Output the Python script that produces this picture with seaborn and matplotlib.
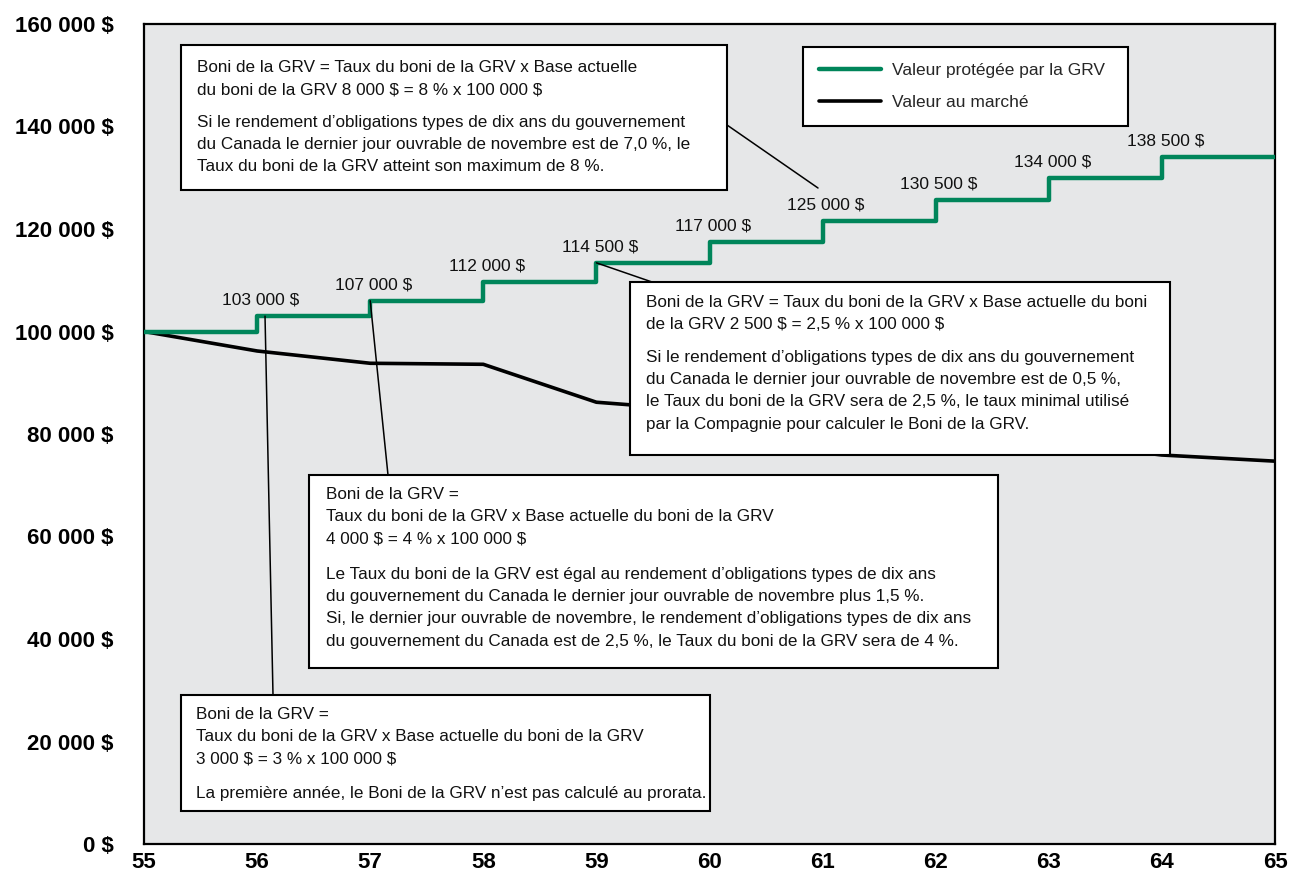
import pandas as pd
import matplotlib.pyplot as plt
import seaborn as sns
from matplotlib.patches import Rectangle

ages = [55, 56, 57, 58, 59, 60, 61, 62, 63, 64, 65]
grv_value = [100000, 103000, 106000, 109600, 113400, 117400, 121600, 125700, 130000, 134100, 134100]
market_value = [100000, 96200, 93800, 93600, 86200, 84500, 82500, 80500, 78500, 75900, 74700]

step_ages = [56, 57, 58, 59, 60, 61, 62, 63, 64]
step_labels = ['103 000 $', '107 000 $', '112 000 $', '114 500 $', '117 000 $',
               '125 000 $', '130 500 $', '134 000 $', '138 500 $']

y_ticks = [0, 20000, 40000, 60000, 80000, 100000, 120000, 140000, 160000]
y_tick_labels = ['0 $', '20 000 $', '40 000 $', '60 000 $', '80 000 $',
                 '100 000 $', '120 000 $', '140 000 $', '160 000 $']

green = '#00855A'
fam = ['Liberation Sans', 'DejaVu Sans']

sns.set_theme(style='white')
plt.rcParams['font.family'] = fam
plt.rcParams['text.parse_math'] = False

df = pd.DataFrame({'age': ages, 'grv': grv_value, 'market': market_value})

W, H = 1299, 882
fig = plt.figure(figsize=(W / 100, H / 100), dpi=100)
ax = fig.add_axes([144 / W, 1 - 844 / H, (1275 - 144) / W, (844 - 24) / H])
ax.set_facecolor('#E6E7E8')


def fx(px):
    return px / W


def fy(py):
    return 1 - py / H


sns.lineplot(data=df, x='age', y='grv', ax=ax, color=green, linewidth=3.2,
             drawstyle='steps-post', label='Valeur protégée par la GRV', zorder=3)
sns.lineplot(data=df, x='age', y='market', ax=ax, color='black', linewidth=2.6,
             label='Valeur au marché', zorder=2)

ax.set_xlim(55, 65)
ax.set_ylim(0, 160000)
ax.set_xticks(ages)
ax.set_xticklabels([str(a) for a in ages], fontsize=16, fontweight='bold')
ax.set_yticks(y_ticks)
ax.set_yticklabels(y_tick_labels, fontsize=16, fontweight='bold')
ax.set_xlabel('')
ax.set_ylabel('')
ax.tick_params(direction='out', length=5, width=1.5, color='black', labelcolor='black')
ax.tick_params(axis='x', pad=0.5)
ax.tick_params(axis='y', pad=17)
for s in ax.spines.values():
    s.set_color('black')
    s.set_linewidth(1.6)

# labels above each step
for a, lab in zip(step_ages, step_labels):
    lvl = grv_value[ages.index(a)]
    ax.annotate(lab, xy=(a + 0.03, lvl), xytext=(0, 6), textcoords='offset points',
                ha='center', va='bottom', fontsize=12.5, color='#111111')

# legend box: 803..1128 px wide, top at 47 px
lx0 = (803 - 144) / (1275 - 144)
lw = (1128 - 803) / (1275 - 144)
ltop = 1 - (47 - 24) / 820
leg = ax.legend(loc='upper left', bbox_to_anchor=(lx0, ltop - 0.2, lw, 0.2), mode='expand',
                frameon=True, fancybox=False, framealpha=1, edgecolor='black', fontsize=12.5,
                handlelength=3.6, borderpad=0.9, labelspacing=1.0, handletextpad=0.6,
                borderaxespad=0)
leg.get_frame().set_linewidth(1.5)

# text boxes
boxes = [(181, 45, 727, 190), (630, 282, 1170, 455), (309, 475, 998, 668), (181, 695, 710, 811)]
for l, t, r, b in boxes:
    ax.add_patch(Rectangle((fx(l), fy(b)), fx(r) - fx(l), fy(t) - fy(b), transform=fig.transFigure,
                           facecolor='white', edgecolor='black', linewidth=1.5, zorder=5, clip_on=False))

paras = [
    (197, 60, 'Boni de la GRV = Taux du boni de la GRV x Base actuelle\n'
              'du boni de la GRV 8 000 $ = 8 % x 100 000 $'),
    (197, 115, 'Si le rendement d’obligations types de dix ans du gouvernement\n'
               'du Canada le dernier jour ouvrable de novembre est de 7,0 %, le\n'
               'Taux du boni de la GRV atteint son maximum de 8 %.'),
    (646, 295, 'Boni de la GRV = Taux du boni de la GRV x Base actuelle du boni\n'
               'de la GRV 2 500 $ = 2,5 % x 100 000 $'),
    (646, 350, 'Si le rendement d’obligations types de dix ans du gouvernement\n'
               'du Canada le dernier jour ouvrable de novembre est de 0,5 %,\n'
               'le Taux du boni de la GRV sera de 2,5 %, le taux minimal utilisé\n'
               'par la Compagnie pour calculer le Boni de la GRV.'),
    (326, 487, 'Boni de la GRV =\n'
               'Taux du boni de la GRV x Base actuelle du boni de la GRV\n'
               '4 000 $ = 4 % x 100 000 $'),
    (326, 567, 'Le Taux du boni de la GRV est égal au rendement d’obligations types de dix ans\n'
               'du gouvernement du Canada le dernier jour ouvrable de novembre plus 1,5 %.\n'
               'Si, le dernier jour ouvrable de novembre, le rendement d’obligations types de dix ans\n'
               'du gouvernement du Canada est de 2,5 %, le Taux du boni de la GRV sera de 4 %.'),
    (196, 707, 'Boni de la GRV =\n'
               'Taux du boni de la GRV x Base actuelle du boni de la GRV\n'
               '3 000 $ = 3 % x 100 000 $'),
    (196, 786, 'La première année, le Boni de la GRV n’est pas calculé au prorata.'),
]
for x, y, txt in paras:
    fig.text(fx(x), fy(y), txt, ha='left', va='top', fontsize=12.3, linespacing=1.6,
             color='#111111', zorder=6)

# leader lines
lead = dict(arrowstyle='-', color='black', linewidth=1.1, shrinkA=0, shrinkB=0)
ax.annotate('', xy=(fx(818), fy(188)), xycoords='figure fraction',
            xytext=(fx(727), fy(125)), textcoords='figure fraction', arrowprops=lead, zorder=4)
ax.annotate('', xy=(59, grv_value[4]), xytext=(fx(652), fy(282)),
            textcoords='figure fraction', arrowprops=lead, zorder=4)
ax.annotate('', xy=(57, grv_value[2]), xytext=(fx(388), fy(475)),
            textcoords='figure fraction', arrowprops=lead, zorder=4)
ax.annotate('', xy=(56.07, grv_value[1]), xytext=(fx(273), fy(695)),
            textcoords='figure fraction', arrowprops=lead, zorder=4)

fig.savefig('out.png', dpi=100)
